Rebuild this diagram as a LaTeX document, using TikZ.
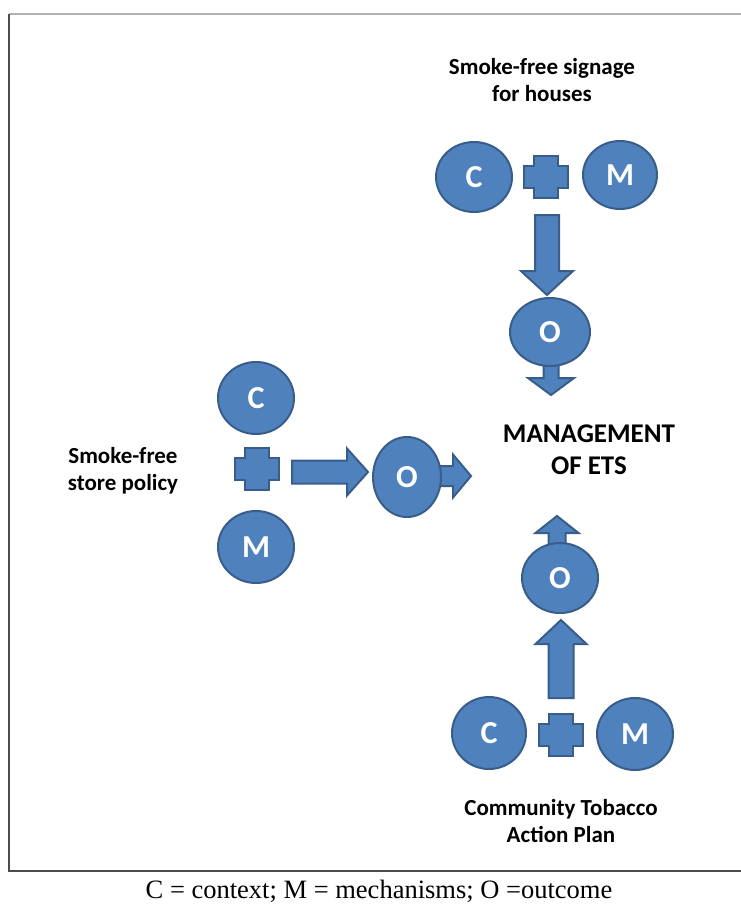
\documentclass[tikz,border=0pt]{standalone}
\usepackage{fontspec}
\setmainfont{Liberation Serif}
\newfontfamily\calib{Carlito}
\usetikzlibrary{shapes.geometric,calc}
\definecolor{cmoblue}{HTML}{4F81BD}
\definecolor{cmoedge}{HTML}{385D8A}
\tikzset{
  cmoshape/.style={fill=cmoblue,draw=cmoedge,line width=2pt,line join=miter},
  bub/.style={ellipse,cmoshape,inner sep=0pt,text=white,font=\calib\bfseries\fontsize{32}{32}\selectfont},
  lab/.style={align=center,font=\calib\bfseries\fontsize{23}{27}\selectfont},
  bigl/.style={align=center,font=\calib\bfseries\fontsize{27}{32}\selectfont},
}
\newcommand{\plussign}[1]{\draw[cmoshape,shift={(#1)}] (-12,-21) -- (12,-21) -- (12,-11) -- (22,-11) -- (22,11) -- (12,11) -- (12,21) -- (-12,21) -- (-12,11) -- (-22,11) -- (-22,-11) -- (-12,-11) -- cycle;}
\newcommand{\blockarrow}[5]{%
  \coordinate (ah) at ($(#2)!#5pt!(#1)$);
  \draw[cmoshape] ($(#1)!#3pt!90:(#2)$) -- ($(ah)!#3pt!90:(#2)$) -- ($(ah)!#4pt!90:(#2)$) -- (#2)
    -- ($(ah)!#4pt!-90:(#2)$) -- ($(ah)!#3pt!-90:(#2)$) -- ($(#1)!#3pt!-90:(#2)$) -- cycle;}

\begin{document}
\begin{tikzpicture}[x=1pt,y=-1pt]
\useasboundingbox (0,0) rectangle (740,905);
\draw[gray!60,line width=1.6pt] (9,14) -- (760,14);
\draw[black!70,line width=1.8pt] (9,14) -- (9,871) -- (760,871);

% houses
\coordinate (tplus) at (546,177);
\coordinate (ta) at (547,215);
\coordinate (tb) at (547,295);
\coordinate (tc1) at (551,355);
\coordinate (tc2) at (551,395);
\node[lab] (tlab) at (542,80) {Smoke-free signage\\for houses};
\node[bub,minimum width=76pt,minimum height=70pt] (tc) at (474,177) {C};
\node[bub,minimum width=74pt,minimum height=68pt] (tm) at (620,175) {M};
\plussign{tplus}
\blockarrow{ta}{tb}{12}{26}{24}
\blockarrow{tc1}{tc2}{7.5}{23}{17}
\node[bub,minimum width=80pt,minimum height=68pt] (to) at (550,332) {O};

% store
\coordinate (lplus) at (257,469);
\coordinate (la) at (292,472);
\coordinate (lb) at (368,472);
\coordinate (lc1) at (430,476);
\coordinate (lc2) at (471,476);
\node[lab] (llab) at (123,471) {Smoke-free\\store policy};
\node[bub,minimum width=76pt,minimum height=72pt] (lc) at (256,398) {C};
\node[bub,minimum width=76pt,minimum height=72pt] (lm) at (256,547) {M};
\plussign{lplus}
\blockarrow{la}{lb}{11.5}{23.5}{21}
\blockarrow{lc1}{lc2}{10}{21.5}{18}
\node[bub,minimum width=68pt,minimum height=80pt] (lo) at (407,477) {O};

% community
\coordinate (bplus) at (561,735);
\coordinate (ba) at (561,698);
\coordinate (bb) at (561,620);
\coordinate (bc1) at (557,555);
\coordinate (bc2) at (557,516);
\node[bub,minimum width=74pt,minimum height=72pt] (bc) at (489,733) {C};
\node[bub,minimum width=76pt,minimum height=72pt] (bm) at (635,734) {M};
\plussign{bplus}
\blockarrow{ba}{bb}{12.5}{25.5}{24}
\blockarrow{bc1}{bc2}{8.5}{21.5}{17}
\node[bub,minimum width=76pt,minimum height=70pt] (bo) at (560,578) {O};
\node[lab] (blab) at (561,821) {Community Tobacco\\Action Plan};

\node[bigl] (ets) at (589,450) {MANAGEMENT\\OF ETS};
\node[font=\fontsize{26.5}{30}\selectfont,anchor=base] (key) at (379,898) {C = context; M = mechanisms; O =outcome};
\end{tikzpicture}
\end{document}
